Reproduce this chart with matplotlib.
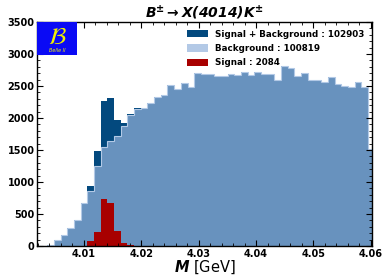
import numpy as np
import matplotlib.pyplot as plt
from matplotlib.patches import Rectangle, Patch
from matplotlib.ticker import MultipleLocator

# bin edges (GeV): 51 bins of ~1.164 MeV, one edge sits on 4.0141
bin_width = 0.001164
edges = 4.0141 + bin_width * (np.arange(52) - 11)

# background counts per bin
background = [3, 8, 15, 95, 173, 285, 405, 670, 860, 1255,
              1541, 1645, 1724, 1870, 2040, 2145, 2156, 2235, 2329, 2366,
              2519, 2456, 2539, 2487, 2700, 2690, 2682, 2656, 2650, 2687,
              2666, 2724, 2672, 2713, 2682, 2681, 2592, 2808, 2776, 2650,
              2703, 2587, 2592, 2560, 2634, 2529, 2498, 2487, 2566, 2482,
              1514]

# signal counts per bin
signal = [0, 0, 0, 0, 0, 0, 2, 8, 75, 226,
          730, 675, 240, 55, 15, 4, 0, 0, 0, 0,
          0, 0, 0, 0, 0, 0, 0, 0, 0, 0,
          0, 0, 0, 0, 0, 0, 0, 0, 0, 0,
          0, 0, 0, 0, 0, 0, 0, 0, 0, 0,
          0]

labels = ["Signal + Background : 102903", "Background : 100819", "Signal : 2084"]

xticks = [4.01, 4.02, 4.03, 4.04, 4.05, 4.06]
yticks = [0, 500, 1000, 1500, 2000, 2500, 3000, 3500]

#colours
dark_blue = '#03497e'
bg_fill = '#6892be'
bg_light = '#b3c9e6'
red = '#a80000'

total = np.array(background) + np.array(signal)

fig = plt.figure(figsize=(3.82, 2.78), dpi=100)
ax = fig.add_axes([0.0976, 0.115, 0.8762, 0.806])

ax.stairs(total, edges, fill=True, color=dark_blue)
ax.stairs(background, edges, fill=True, facecolor=bg_fill, edgecolor=bg_light, linewidth=0.8)
ax.stairs(signal, edges, fill=True, color=red)

ax.set_xlim(4.0019, 4.0602)
ax.set_ylim(0, 3500)

ax.set_xticks(xticks, [f'{t:.2f}' for t in xticks], fontweight='bold', fontsize=7)
ax.set_yticks(yticks, [str(t) for t in yticks], fontweight='bold', fontsize=7)
ax.xaxis.set_minor_locator(MultipleLocator(0.002))
ax.yaxis.set_minor_locator(MultipleLocator(100))
ax.tick_params(which='both', direction='in', top=True, right=True)
ax.tick_params(which='major', length=4, width=0.8, pad=2)
ax.tick_params(which='minor', length=2, width=0.6)
for s in ax.spines.values():
    s.set_linewidth(1.0)

ax.set_title(r'$\mathbfit{B^{\pm}\rightarrow X(4014)K^{\pm}}$', fontsize=10, pad=3)
ax.set_xlabel(r'$\mathbfit{M}$ [GeV]', fontsize=10.5, labelpad=0)

#legend with manual handles
handles = [Patch(facecolor=dark_blue), Patch(facecolor=bg_light), Patch(facecolor=red)]
ax.legend(handles, labels, loc='upper right', frameon=False,
          prop={'weight': 'bold', 'size': 6.3}, handlelength=2.4, handleheight=0.9,
          labelspacing=0.6, borderaxespad=0.5)

#belle II logo
ax.add_patch(Rectangle((0, 0.852), 0.12, 0.148, transform=ax.transAxes,
                       facecolor='#0a0af5', edgecolor='none', zorder=5))
ax.text(0.06, 0.935, r'$\mathcal{B}$', transform=ax.transAxes, color='#f2f200',
        fontsize=17, ha='center', va='center', zorder=6)
ax.text(0.06, 0.872, 'Belle II', transform=ax.transAxes, color='#f2f200',
        fontsize=3.5, style='italic', ha='center', va='center', zorder=6)

fig.savefig('out.png', dpi=100)
